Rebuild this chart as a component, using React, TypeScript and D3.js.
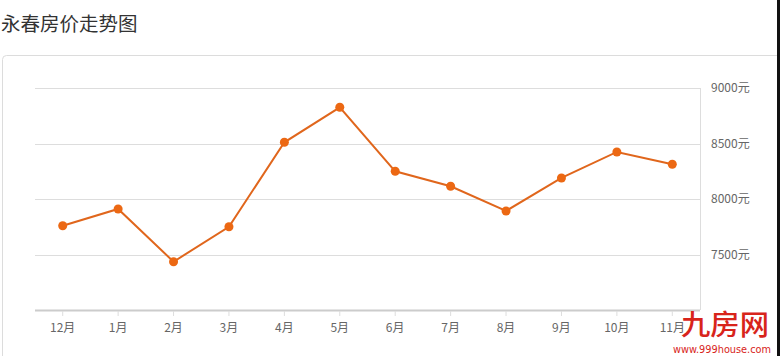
import React from "react";
import * as d3 from "d3";

const months = ["12月", "1月", "2月", "3月", "4月", "5月", "6月", "7月", "8月", "9月", "10月", "11月"];
const prices = [7763, 7914, 7439, 7754, 8514, 8829, 8253, 8118, 7896, 8193, 8427, 8316];
const yTicks = [7500, 8000, 8500, 9000];
const title = "永春房价走势图";

const W = 780;
const H = 356;
const FONT = "'Noto Sans CJK SC', 'Noto Sans', sans-serif";

export default function App() {
  const x = d3.scaleBand<string>().domain(months).range([35, 700]);
  const y = d3.scaleLinear().domain([7000, 9000]).range([310.5, 88.3]);
  const cx = (m: string) => (x(m) as number) + x.bandwidth() / 2;
  const line = d3
    .line<number>()
    .x((_, i) => cx(months[i]))
    .y((d) => y(d));

  return (
    <svg
      width={W}
      height={H}
      style={{ position: "absolute", left: 0, top: 0, background: "#fff" }}
      fontFamily={FONT}
    >
      <text x={1} y={31} fontSize={19.5} fill="#333">
        {title}
      </text>
      {/* card */}
      <path
        d={`M2.5,${H + 5} V59.5 Q2.5,55.5 6.5,55.5 H${W + 5}`}
        fill="none"
        stroke="#dcdcdc"
        strokeWidth={1}
      />
      {/* grid */}
      {yTicks.map((t) => (
        <g key={t}>
          <line x1={35} x2={700} y1={Math.round(y(t)) + 0.5} y2={Math.round(y(t)) + 0.5} stroke="#dddddd" />
          <text x={711} y={y(t) + 4} fontSize={12} fill="#666">
            {t}元
          </text>
        </g>
      ))}
      <line x1={700.5} x2={700.5} y1={88} y2={310} stroke="#dddddd" />
      <line x1={35} x2={700} y1={310.5} y2={310.5} stroke="#cccccc" strokeWidth={2} />
      {months.map((m) => (
        <g key={m}>
          <line x1={cx(m)} x2={cx(m)} y1={311} y2={316} stroke="#dddddd" />
          <text x={cx(m)} y={332} fontSize={12} fill="#666" textAnchor="middle">
            {m}
          </text>
        </g>
      ))}
      <path d={line(prices) || ""} fill="none" stroke="#e0661c" strokeWidth={2} />
      {prices.map((p, i) => (
        <circle key={i} cx={cx(months[i])} cy={y(p)} r={4.5} fill="#ec6813" />
      ))}
      {/* watermark */}
      <text
        x={681}
        y={335}
        fontSize={28}
        fontWeight={500}
        fill="#d8241b"
        textLength={88}
        lengthAdjust="spacingAndGlyphs"
      >
        九房网
      </text>
      <text
        x={673}
        y={353}
        fontSize={10}
        fill="#d8241b"
        textLength={98}
        lengthAdjust="spacingAndGlyphs"
        fontFamily="'DejaVu Sans', sans-serif"
      >
        www.999house.com
      </text>
      <rect x={777} y={0} width={3} height={H} fill="#111" />
    </svg>
  );
}
